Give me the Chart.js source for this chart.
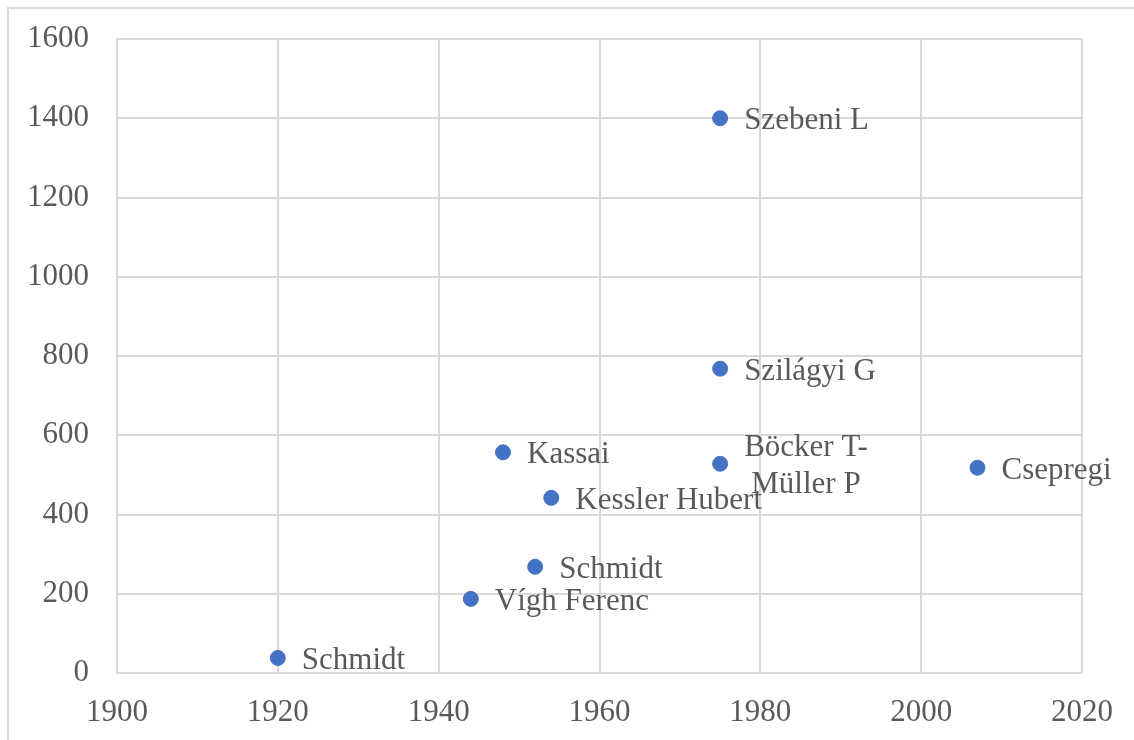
<!DOCTYPE html>
<html>
<head>
<meta charset="utf-8">
<script src="https://cdn.jsdelivr.net/npm/chart.js@4.4.0/dist/chart.umd.min.js"></script>
<style>
  html, body { margin: 0; padding: 0; background: #fff; overflow: hidden; }
  #frame { position: absolute; left: 7px; top: 7px; width: 1200px; height: 800px; border: 2px solid #d9d9d9; }
  #wrap { position: absolute; left: 0; top: 0; width: 1134px; height: 740px; }
</style>
</head>
<body>
<div id="frame"></div>
<div id="wrap"><canvas id="chart" width="1134" height="740"></canvas></div>
<script>
// év / érték párok és a pontok feliratai
const years = [1920, 1944, 1952, 1954, 1948, 1975, 1975, 1975, 2007];
const values = [38, 187, 268, 442, 557, 528, 768, 1400, 518];
const names = ['Schmidt', 'Vígh Ferenc', 'Schmidt', 'Kessler Hubert', 'Kassai',
  ['Böcker T-', 'Müller P'], 'Szilágyi G', 'Szebeni L', 'Csepregi'];

const xTicks = [1900, 1920, 1940, 1960, 1980, 2000, 2020];
const yTicks = [0, 200, 400, 600, 800, 1000, 1200, 1400, 1600];

const FONT = '"Liberation Serif", "Times New Roman", serif';
const GRID = '#d9d9d9';
const TEXT = '#595959';
const SIZE = 31;

// feliratok a pontok jobb oldalán
const pointLabels = {
  id: 'pointLabels',
  afterDatasetsDraw(chart) {
    const ctx = chart.ctx;
    const meta = chart.getDatasetMeta(0);
    ctx.save();
    ctx.font = SIZE + 'px ' + FONT;
    ctx.fillStyle = TEXT;
    ctx.textBaseline = 'alphabetic';
    meta.data.forEach((pt, i) => {
      const lines = Array.isArray(names[i]) ? names[i] : [names[i]];
      const lh = 37;
      const y0 = pt.y + 11 - lh * (lines.length - 1) / 2;
      if (lines.length > 1) {
        const w = Math.max(...lines.map(l => ctx.measureText(l).width));
        ctx.textAlign = 'center';
        lines.forEach((l, k) => ctx.fillText(l, pt.x + 24 + w / 2, y0 + k * lh));
      } else {
        ctx.textAlign = 'left';
        ctx.fillText(lines[0], pt.x + 24, y0);
      }
    });
    ctx.restore();
  }
};

const ctx = document.getElementById('chart').getContext('2d');
new Chart(ctx, {
  type: 'scatter',
  data: {
    datasets: [{
      data: years.map((x, i) => ({ x: x, y: values[i] })),
      backgroundColor: '#4472C4',
      borderColor: '#4472C4',
      pointRadius: 7.5,
      pointHoverRadius: 7.5
    }]
  },
  options: {
    responsive: false,
    animation: false,
    layout: { padding: { left: 0, top: 39, right: 52, bottom: 0 } },
    plugins: { legend: { display: false }, tooltip: { enabled: false } },
    scales: {
      x: {
        type: 'linear',
        min: 1900,
        max: 2020,
        afterBuildTicks: s => { s.ticks = xTicks.map(v => ({ value: v })); },
        afterFit: s => { s.height = 67; s.paddingLeft = 0; s.paddingRight = 0; },
        grid: { color: GRID, lineWidth: 2, drawTicks: false },
        border: { color: GRID, width: 2 },
        ticks: { color: TEXT, font: { family: FONT, size: SIZE }, padding: 21, maxRotation: 0,
          callback: v => String(v) }
      },
      y: {
        min: 0,
        max: 1600,
        afterBuildTicks: s => { s.ticks = yTicks.map(v => ({ value: v })); },
        afterFit: s => { s.width = 117; s.paddingTop = 0; s.paddingBottom = 0; },
        grid: { color: GRID, lineWidth: 2, drawTicks: false },
        border: { color: GRID, width: 2 },
        ticks: { color: TEXT, font: { family: FONT, size: SIZE }, padding: 28,
          callback: v => String(v) }
      }
    }
  },
  plugins: [pointLabels]
});
</script>
</body>
</html>
